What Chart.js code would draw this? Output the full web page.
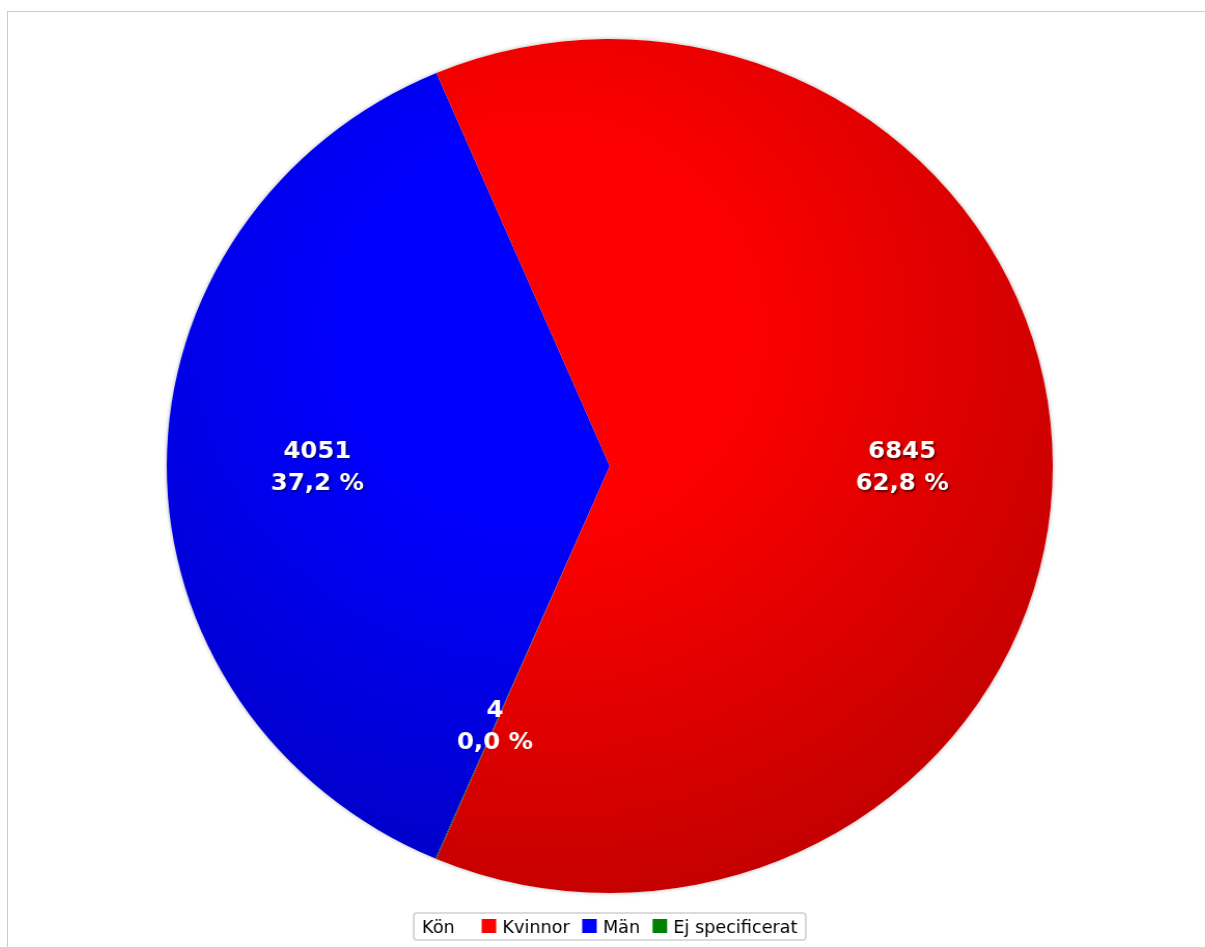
<!DOCTYPE html>
<html><head><meta charset="utf-8">
<script src="https://cdn.jsdelivr.net/npm/chart.js@4.4.1/dist/chart.umd.min.js"></script>
<style>
html,body{margin:0;padding:0;background:#fff;overflow:hidden;width:1205px;height:947px;}
#frame{position:absolute;left:7px;top:11px;width:1300px;height:1000px;border-left:1px solid #ccc;border-top:1px solid #ccc;}
#wrap{position:absolute;left:8px;top:12px;width:1154px;height:935px;transform:scaleX(1.0375);transform-origin:0 0;}
</style></head><body>
<div id="frame"></div>
<div id="wrap"><canvas id="c"></canvas></div>
<script>
const legendTitle = 'Kön';
const categories = ['Kvinnor', 'Män', 'Ej specificerat'];
const values = [6845, 4051, 4];
const colors = ['#ff0000', '#0000ff', '#008000'];

// slices are laid out clockwise in reverse legend order
const order = [2, 1, 0];
const total = values.reduce((a, b) => a + b, 0);

function darken(hex, amt) {
  const n = parseInt(hex.slice(1), 16);
  const f = v => Math.max(0, Math.min(255, Math.round(v - amt * 255)));
  return 'rgb(' + f((n >> 16) & 255) + ',' + f((n >> 8) & 255) + ',' + f(n & 255) + ')';
}

function makePattern(ctx, color, x, y, r) {
  const S = 512;
  const oc = document.createElement('canvas');
  oc.width = S; oc.height = S;
  const g = oc.getContext('2d');
  const gx = 0.42 * S, gy = 0.34 * S;
  const grad = g.createRadialGradient(gx, gy, 0, gx, gy, 0.86 * S);
  grad.addColorStop(0, color);
  grad.addColorStop(0.25, color);
  grad.addColorStop(1, darken(color, 0.32));
  g.fillStyle = grad;
  g.fillRect(0, 0, S, S);
  const p = ctx.createPattern(oc, 'no-repeat');
  const k = (2 * r + 4) / S;
  p.setTransform(new DOMMatrix([k, 0, 0, k, x - r - 2, y - r - 2]));
  return p;
}

const shadePlugin = {
  id: 'shade',
  beforeDatasetsDraw(chart) {
    const ctx = chart.ctx;
    const meta = chart.getDatasetMeta(0);
    if (!meta.data.length) return;
    const a0 = meta.data[0];
    ctx.save();
    ctx.beginPath();
    ctx.arc(a0.x, a0.y, a0.outerRadius, 0, Math.PI * 2);
    ctx.shadowColor = 'rgba(0,0,0,0.3)';
    ctx.shadowBlur = 4;
    ctx.fillStyle = '#ffffff';
    ctx.fill();
    ctx.restore();
    meta.data.forEach((arc, i) => {
      const c = colors[order[i]];
      arc.options.backgroundColor = makePattern(ctx, c, arc.x, arc.y, arc.outerRadius);
    });
  }
};

const labelPlugin = {
  id: 'sliceLabels',
  afterDatasetsDraw(chart) {
    const ctx = chart.ctx;
    const meta = chart.getDatasetMeta(0);
    meta.data.forEach((arc, i) => {
      const idx = order[i];
      const v = values[idx];
      const pct = (v / total * 100).toFixed(1).replace('.', ',') + ' %';
      const mid = (arc.startAngle + arc.endAngle) / 2;
      const rr = arc.outerRadius * 0.66;
      const x = arc.x + Math.cos(mid) * rr;
      const y = arc.y + Math.sin(mid) * rr;
      ctx.save();
      ctx.font = 'bold 23.5px "DejaVu Sans", Verdana, sans-serif';
      ctx.textAlign = 'center';
      ctx.textBaseline = 'alphabetic';
      ctx.fillStyle = '#ffffff';
      if (v / total >= 0.01) {
        ctx.shadowColor = 'rgba(0,0,0,0.55)';
        ctx.shadowOffsetX = 1.5;
        ctx.shadowOffsetY = 1.5;
        ctx.shadowBlur = 2;
      }
      ctx.fillText(String(v), x, y - 8);
      ctx.fillText(pct, x, y + 24);
      ctx.restore();
    });
  }
};

const legendPlugin = {
  id: 'boxLegend',
  afterDraw(chart) {
    const ctx = chart.ctx;
    const area = chart.chartArea;
    const cx = (area.left + area.right) / 2;
    ctx.save();
    ctx.font = '17px "DejaVu Sans", Verdana, sans-serif';
    const pad = 8, titleGap = 26, sq = 14, sqGap = 6, itemGap = 12;
    const tW = ctx.measureText(legendTitle).width;
    const iW = categories.map(t => sq + sqGap + ctx.measureText(t).width);
    const w = pad * 2 + tW + titleGap + iW.reduce((a, b) => a + b, 0) + itemGap * (iW.length - 1);
    const top = 901, h = 27;
    let x0 = cx - w / 2;
    ctx.beginPath();
    if (ctx.roundRect) ctx.roundRect(x0, top, w, h, 3); else ctx.rect(x0, top, w, h);
    ctx.fillStyle = '#ffffff';
    ctx.fill();
    ctx.lineWidth = 1.6;
    ctx.strokeStyle = '#cfcfcf';
    ctx.stroke();
    const base = top + 20;
    ctx.fillStyle = '#000000';
    ctx.textBaseline = 'alphabetic';
    ctx.textAlign = 'left';
    let x = x0 + pad;
    ctx.fillText(legendTitle, x, base);
    x += tW + titleGap;
    categories.forEach((t, i) => {
      ctx.fillStyle = colors[i];
      ctx.fillRect(x, top + 6, sq, sq);
      ctx.fillStyle = '#000000';
      ctx.fillText(t, x + sq + sqGap, base);
      x += iW[i] + itemGap;
    });
    ctx.restore();
  }
};

new Chart(document.getElementById('c'), {
  type: 'pie',
  data: {
    labels: order.map(i => categories[i]),
    datasets: [{
      data: order.map(i => values[i]),
      backgroundColor: order.map(i => colors[i]),
      borderWidth: 0
    }]
  },
  options: {
    responsive: true,
    maintainAspectRatio: false,
    animation: false,
    rotation: 203.04,
    radius: 427,
    layout: { padding: { left: 6, right: 0, top: 20, bottom: 47 } },
    plugins: {
      legend: { display: false },
      tooltip: { enabled: false }
    }
  },
  plugins: [shadePlugin, labelPlugin, legendPlugin]
});
</script>
</body></html>
